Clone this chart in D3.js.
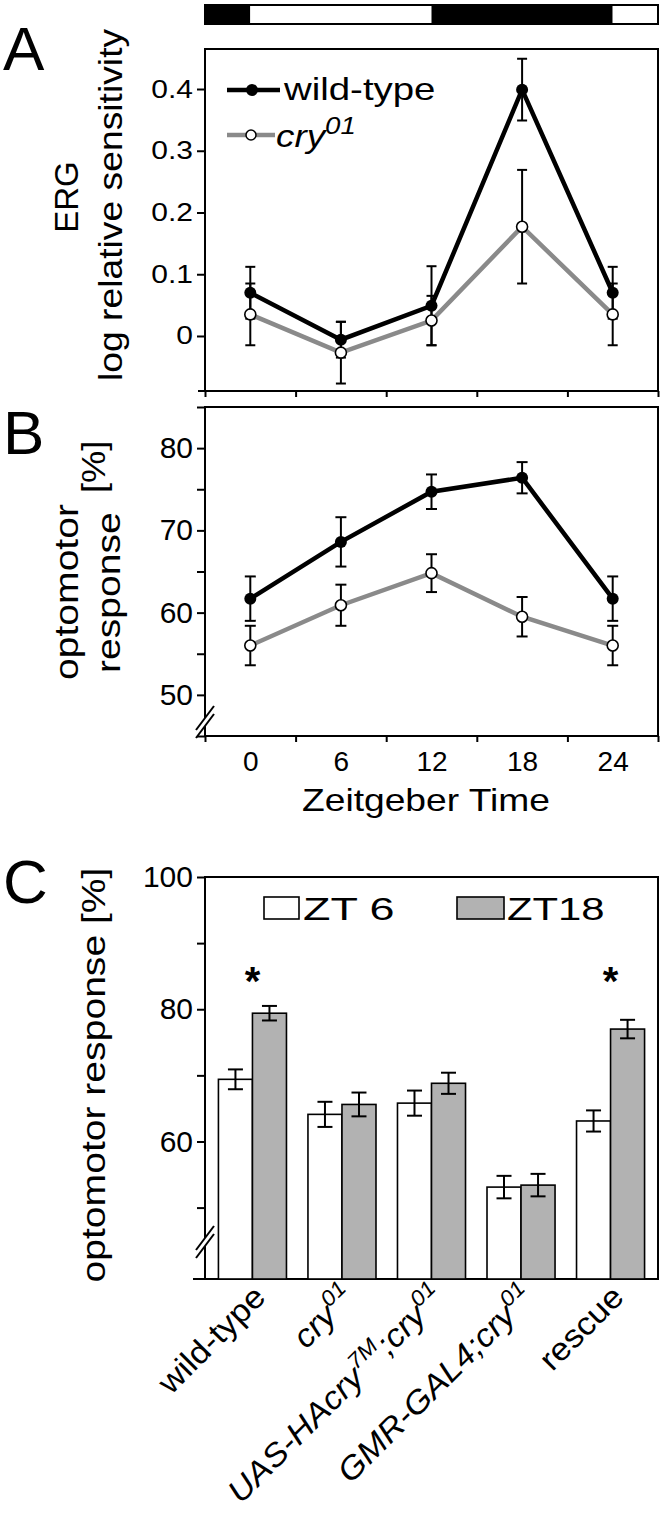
<!DOCTYPE html>
<html><head><meta charset="utf-8">
<script src="https://cdn.jsdelivr.net/npm/d3@7"></script>
<style>
html,body{margin:0;padding:0;background:#fff}
svg{display:block}
text{font-family:"Liberation Sans",Arial,Helvetica,sans-serif;fill:#000}
</style>
</head><body>
<svg id="fig" width="664" height="1523"></svg>
<script>
// ---------------- data ----------------
const hours = [0, 6, 12, 18, 24];
const hourMinorTicks = [-3, 3, 9, 15, 21, 27];
const ldStart = [-3, 0, 12, 24];
const ldEnd = [0, 12, 24, 27];
const ldDark = [1, 0, 1, 0];

const ergWT = [0.070, -0.006, 0.049, 0.399, 0.070];
const ergWTErr = [0.042, 0.029, 0.064, 0.050, 0.042];
const ergCry = [0.035, -0.027, 0.025, 0.177, 0.035];
const ergCryErr = [0.050, 0.050, 0.040, 0.092, 0.050];
const ergTicks = [0, 0.1, 0.2, 0.3, 0.4];

const optoWT = [61.7, 68.6, 74.7, 76.4, 61.7];
const optoWTErr = [2.7, 3.0, 2.1, 1.9, 2.7];
const optoCry = [56.0, 60.9, 64.8, 59.5, 56.0];
const optoCryErr = [2.4, 2.5, 2.3, 2.4, 2.4];
const optoTicks = [45, 50, 55, 60, 65, 70, 75, 80, 85];
const optoLabels = [50, 60, 70, 80];

const genotypes = ["wild-type", "cry01", "UAS-HAcry7M;cry01", "GMR-GAL4;cry01", "rescue"];
const genotypeParts = [
  [["wild-type", 0]],
  [["cry", 0], ["01", 1]],
  [["UAS-HAcry", 0], ["7M", 1], [";cry", 0], ["01", 1]],
  [["GMR-GAL4;cry", 0], ["01", 1]],
  [["rescue", 0]]
];
const genotypeItalic = [false, true, true, true, false];
const seriesNames = ["ZT 6", "ZT18"];
const zt6 = [69.4, 64.1, 65.8, 53.1, 63.1];
const zt6Err = [1.5, 1.9, 1.9, 1.7, 1.6];
const zt18 = [79.4, 65.6, 68.8, 53.4, 77.0];
const zt18Err = [1.1, 1.8, 1.6, 1.7, 1.4];
const significant = [true, false, false, false, true];
const barTicks = [50, 60, 70, 80, 90, 100];
const barLabels = [60, 80, 100];

// ---------------- helpers ----------------
const svg = d3.select('#fig');
svg.append('rect').attr('width', 664).attr('height', 1523).attr('fill', '#fff');
const FONT = '"Liberation Sans", Arial, Helvetica, sans-serif';
const GRAY_LINE = '#8a8a8a';
const GRAY_BAR = '#b2b2b2';

function txt(parent, px, py, o) {
  o = Object.assign({size: 30, sx: 1, rot: 0, anchor: 'start', italic: false, weight: 'normal'}, o);
  return parent.append('text')
    .attr('transform', `translate(${px},${py}) rotate(${o.rot}) scale(${o.sx},1)`)
    .attr('font-size', o.size).attr('text-anchor', o.anchor)
    .attr('font-style', o.italic ? 'italic' : 'normal')
    .attr('font-weight', o.weight);
}
function parts(t, list, size, supScale) {
  supScale = supScale || 0.68;
  let shift = 0;
  list.forEach(([s, sup]) => {
    const target = sup ? -0.42 * size : 0;
    t.append('tspan').attr('dy', target - shift)
      .attr('font-size', sup ? size * supScale : size).text(s);
    shift = target;
  });
}
function styleLeftAxis(g, size, sx, gap) {
  g.select('.domain').remove();
  g.selectAll('.tick line').attr('stroke', '#000').attr('stroke-width', 2);
  g.selectAll('.tick text').attr('font-size', size).attr('font-family', FONT)
    .attr('fill', '#000').attr('x', -gap / sx).attr('transform', `scale(${sx},1)`);
}
function breakMark(g, cx, cy) {
  g.append('polygon')
    .attr('points', `${cx-8},${cy+9} ${cx+8},${cy-13} ${cx+8},${cy-5} ${cx-8},${cy+17}`)
    .attr('fill', '#fff');
  [0, 8].forEach(o => g.append('line')
    .attr('x1', cx - 9).attr('y1', cy + 10 + o).attr('x2', cx + 9).attr('y2', cy - 14 + o)
    .attr('stroke', '#000').attr('stroke-width', 2));
}
function errorBars(g, xs, vals, errs, cap, yScale) {
  vals.forEach((v, i) => {
    const cx = xs(i);
    g.append('line').attr('x1', cx).attr('x2', cx)
      .attr('y1', yScale(v - errs[i])).attr('y2', yScale(v + errs[i]));
    [v - errs[i], v + errs[i]].forEach(e => g.append('line')
      .attr('x1', cx - cap / 2).attr('x2', cx + cap / 2)
      .attr('y1', yScale(e)).attr('y2', yScale(e)));
  });
  g.attr('stroke', '#000').attr('stroke-width', 2);
}

const X0 = 205, X1 = 658;
const x = d3.scaleLinear().domain([-3, 27]).range([X0, X1]);

// ---------------- light/dark bar ----------------
const ld = svg.append('g');
ldStart.forEach((s, i) => ld.append('rect')
  .attr('x', x(s)).attr('y', 5).attr('width', x(ldEnd[i]) - x(s)).attr('height', 19)
  .attr('fill', ldDark[i] ? '#000' : '#fff'));
ld.append('rect').attr('x', X0).attr('y', 5).attr('width', X1 - X0).attr('height', 19)
  .attr('fill', 'none').attr('stroke', '#000').attr('stroke-width', 2);

// ---------------- panel A ----------------
const yA = d3.scaleLinear().domain([-0.0891, 0.4648]).range([391, 49]);
const gA = svg.append('g');
gA.append('rect').attr('x', X0).attr('y', yA.range()[1]).attr('width', X1 - X0)
  .attr('height', yA.range()[0] - yA.range()[1]).attr('fill', 'none')
  .attr('stroke', '#000').attr('stroke-width', 2);
gA.append('line').attr('x1', X0 - 7).attr('x2', X0).attr('y1', 391).attr('y2', 391)
  .attr('stroke', '#000').attr('stroke-width', 2);
const axA = gA.append('g').attr('transform', `translate(${X0},0)`)
  .call(d3.axisLeft(yA).tickValues(ergTicks).tickSize(8).tickPadding(4)
    .tickFormat(d => d === 0 ? '0' : d3.format('.1f')(d)));
styleLeftAxis(axA, 25, 1.2, 12);
const axAb = gA.append('g').attr('transform', 'translate(0,391)')
  .call(d3.axisBottom(x).tickValues(hourMinorTicks).tickSize(6).tickFormat(''));
axAb.select('.domain').remove();
axAb.selectAll('.tick line').attr('stroke', '#000').attr('stroke-width', 2);

const lineA = d3.line().x((d, i) => x(hours[i])).y(d => yA(d));
gA.append('path').datum(ergCry).attr('d', lineA).attr('fill', 'none')
  .attr('stroke', GRAY_LINE).attr('stroke-width', 4.5);
gA.append('path').datum(ergWT).attr('d', lineA).attr('fill', 'none')
  .attr('stroke', '#000').attr('stroke-width', 4.5);
errorBars(gA.append('g'), i => x(hours[i]), ergWT, ergWTErr, 10, yA);
errorBars(gA.append('g'), i => x(hours[i]), ergCry, ergCryErr, 10, yA);
gA.selectAll('.mc').data(ergCry).join('circle').attr('class', 'mc')
  .attr('cx', (d, i) => x(hours[i])).attr('cy', d => yA(d)).attr('r', 5.5)
  .attr('fill', '#fff').attr('stroke', '#000').attr('stroke-width', 1.6);
gA.selectAll('.mw').data(ergWT).join('circle').attr('class', 'mw')
  .attr('cx', (d, i) => x(hours[i])).attr('cy', d => yA(d)).attr('r', 6)
  .attr('fill', '#000');

// legend A
gA.append('line').attr('x1', 227).attr('x2', 280).attr('y1', 90).attr('y2', 90)
  .attr('stroke', '#000').attr('stroke-width', 4.5);
gA.append('circle').attr('cx', 252).attr('cy', 90).attr('r', 6).attr('fill', '#000');
txt(gA, 284, 100, {size: 32, sx: 1.2}).text('wild-type');
gA.append('line').attr('x1', 227).attr('x2', 275).attr('y1', 135).attr('y2', 135)
  .attr('stroke', GRAY_LINE).attr('stroke-width', 4.5);
gA.append('circle').attr('cx', 251).attr('cy', 135).attr('r', 5)
  .attr('fill', '#fff').attr('stroke', '#000').attr('stroke-width', 1.5);
parts(txt(gA, 276, 147, {size: 32, sx: 1.15, italic: true}), [["cry", 0], ["01", 1]], 32, 0.75);

txt(gA, 78, 197, {size: 33, rot: -90, anchor: 'middle', sx: 1.0}).text('ERG');
txt(gA, 122, 205, {size: 33, rot: -90, anchor: 'middle', sx: 1.13}).text('log relative sensitivity');
txt(gA, 3, 70, {size: 62}).text('A');

// ---------------- panel B ----------------
const yB = d3.scaleLinear().domain([45, 85]).range([736, 407]);
const gB = svg.append('g');
gB.append('rect').attr('x', X0).attr('y', 407).attr('width', X1 - X0).attr('height', 736 - 407)
  .attr('fill', 'none').attr('stroke', '#000').attr('stroke-width', 2);
const axB = gB.append('g').attr('transform', `translate(${X0},0)`)
  .call(d3.axisLeft(yB).tickValues(optoTicks).tickSize(8).tickPadding(4)
    .tickFormat(d => optoLabels.includes(d) ? d : ''));
styleLeftAxis(axB, 30, 1.0, 12);
const axBb = gB.append('g').attr('transform', 'translate(0,736)')
  .call(d3.axisBottom(x).tickValues(hourMinorTicks).tickSize(6).tickFormat(''));
axBb.select('.domain').remove();
axBb.selectAll('.tick line').attr('stroke', '#000').attr('stroke-width', 2);
const axBl = gB.append('g').attr('transform', 'translate(0,736)')
  .call(d3.axisBottom(x).tickValues(hours).tickSize(0).tickPadding(15));
axBl.select('.domain').remove();
axBl.selectAll('.tick text').attr('font-size', 28).attr('font-family', FONT).attr('fill', '#000');
breakMark(gB, X0, 720);

const lineB = d3.line().x((d, i) => x(hours[i])).y(d => yB(d));
gB.append('path').datum(optoCry).attr('d', lineB).attr('fill', 'none')
  .attr('stroke', GRAY_LINE).attr('stroke-width', 4.5);
gB.append('path').datum(optoWT).attr('d', lineB).attr('fill', 'none')
  .attr('stroke', '#000').attr('stroke-width', 4.5);
errorBars(gB.append('g'), i => x(hours[i]), optoWT, optoWTErr, 11, yB);
errorBars(gB.append('g'), i => x(hours[i]), optoCry, optoCryErr, 11, yB);
gB.selectAll('.mc').data(optoCry).join('circle').attr('class', 'mc')
  .attr('cx', (d, i) => x(hours[i])).attr('cy', d => yB(d)).attr('r', 5.5)
  .attr('fill', '#fff').attr('stroke', '#000').attr('stroke-width', 1.6);
gB.selectAll('.mw').data(optoWT).join('circle').attr('class', 'mw')
  .attr('cx', (d, i) => x(hours[i])).attr('cy', d => yB(d)).attr('r', 6)
  .attr('fill', '#000');

txt(gB, 78, 680, {size: 34, rot: -90, sx: 1.15}).text('optomotor');
txt(gB, 120, 673, {size: 34, rot: -90, sx: 1.15}).text('response');
txt(gB, 105, 493, {size: 33, rot: -90, sx: 1.1}).text('[%]');
txt(gB, 426, 811, {size: 31, anchor: 'middle', sx: 1.2}).text('Zeitgeber Time');
txt(gB, 3, 454, {size: 62}).text('B');

// ---------------- panel C ----------------
const yC = d3.scaleLinear().domain([39.2, 100]).range([1279, 877]);
const gC = svg.append('g');
const xC = d3.scaleBand().domain(genotypes).range([X0, X1]).paddingInner(0.24).paddingOuter(0.15);
const xS = d3.scaleBand().domain(seriesNames).range([0, xC.bandwidth()]);
gC.append('rect').attr('x', X0).attr('y', 877).attr('width', X1 - X0).attr('height', 1279 - 877)
  .attr('fill', 'none').attr('stroke', '#000').attr('stroke-width', 2);
gC.append('line').attr('x1', X0 - 12).attr('x2', X0).attr('y1', 1279).attr('y2', 1279)
  .attr('stroke', '#000').attr('stroke-width', 2);
const axC = gC.append('g').attr('transform', `translate(${X0},0)`)
  .call(d3.axisLeft(yC).tickValues(barTicks).tickSize(8).tickPadding(4)
    .tickFormat(d => barLabels.includes(d) ? d : ''));
styleLeftAxis(axC, 30, 1.0, 12);

const seriesVals = [zt6, zt18];
const seriesErr = [zt6Err, zt18Err];
const seriesFill = ['#fff', GRAY_BAR];
seriesVals.forEach((vals, s) => {
  gC.selectAll('.bar' + s).data(vals).join('rect').attr('class', 'bar' + s)
    .attr('x', (d, i) => xC(genotypes[i]) + xS(seriesNames[s]))
    .attr('y', d => yC(d)).attr('width', xS.bandwidth())
    .attr('height', d => yC.range()[0] - yC(d))
    .attr('fill', seriesFill[s]).attr('stroke', '#000').attr('stroke-width', 1.6);
});
seriesVals.forEach((vals, s) => {
  errorBars(gC.append('g'),
    i => xC(genotypes[i]) + xS(seriesNames[s]) + xS.bandwidth() / 2,
    vals, seriesErr[s], 15, yC);
});
breakMark(gC, X0, 1240);
significant.forEach((sig, i) => {
  if (!sig) return;
  txt(gC, xC(genotypes[i]) + xC.bandwidth() / 2, 995, {size: 40, anchor: 'middle', weight: 'bold'}).text('*');
});

// legend C
gC.append('rect').attr('x', 264).attr('y', 897).attr('width', 35).attr('height', 22)
  .attr('fill', '#fff').attr('stroke', '#000').attr('stroke-width', 1.6);
txt(gC, 303, 920, {size: 31, sx: 1.45}).text(seriesNames[0]);
gC.append('rect').attr('x', 457).attr('y', 897).attr('width', 47).attr('height', 22)
  .attr('fill', GRAY_BAR).attr('stroke', '#000').attr('stroke-width', 1.6);
txt(gC, 507, 920, {size: 31, sx: 1.35}).text(seriesNames[1]);

// category labels
genotypes.forEach((gname, i) => {
  const t = txt(gC, xC(gname) + xC.bandwidth() / 2 + 15, 1299,
    {size: 32, rot: -45, anchor: 'end', sx: 1.08, italic: genotypeItalic[i]});
  parts(t, genotypeParts[i], 32);
});

txt(gC, 105, 1075, {size: 34, rot: -90, anchor: 'middle', sx: 1.15}).text('optomotor response [%]');
txt(gC, 3, 903, {size: 62}).text('C');
</script>
</body></html>
